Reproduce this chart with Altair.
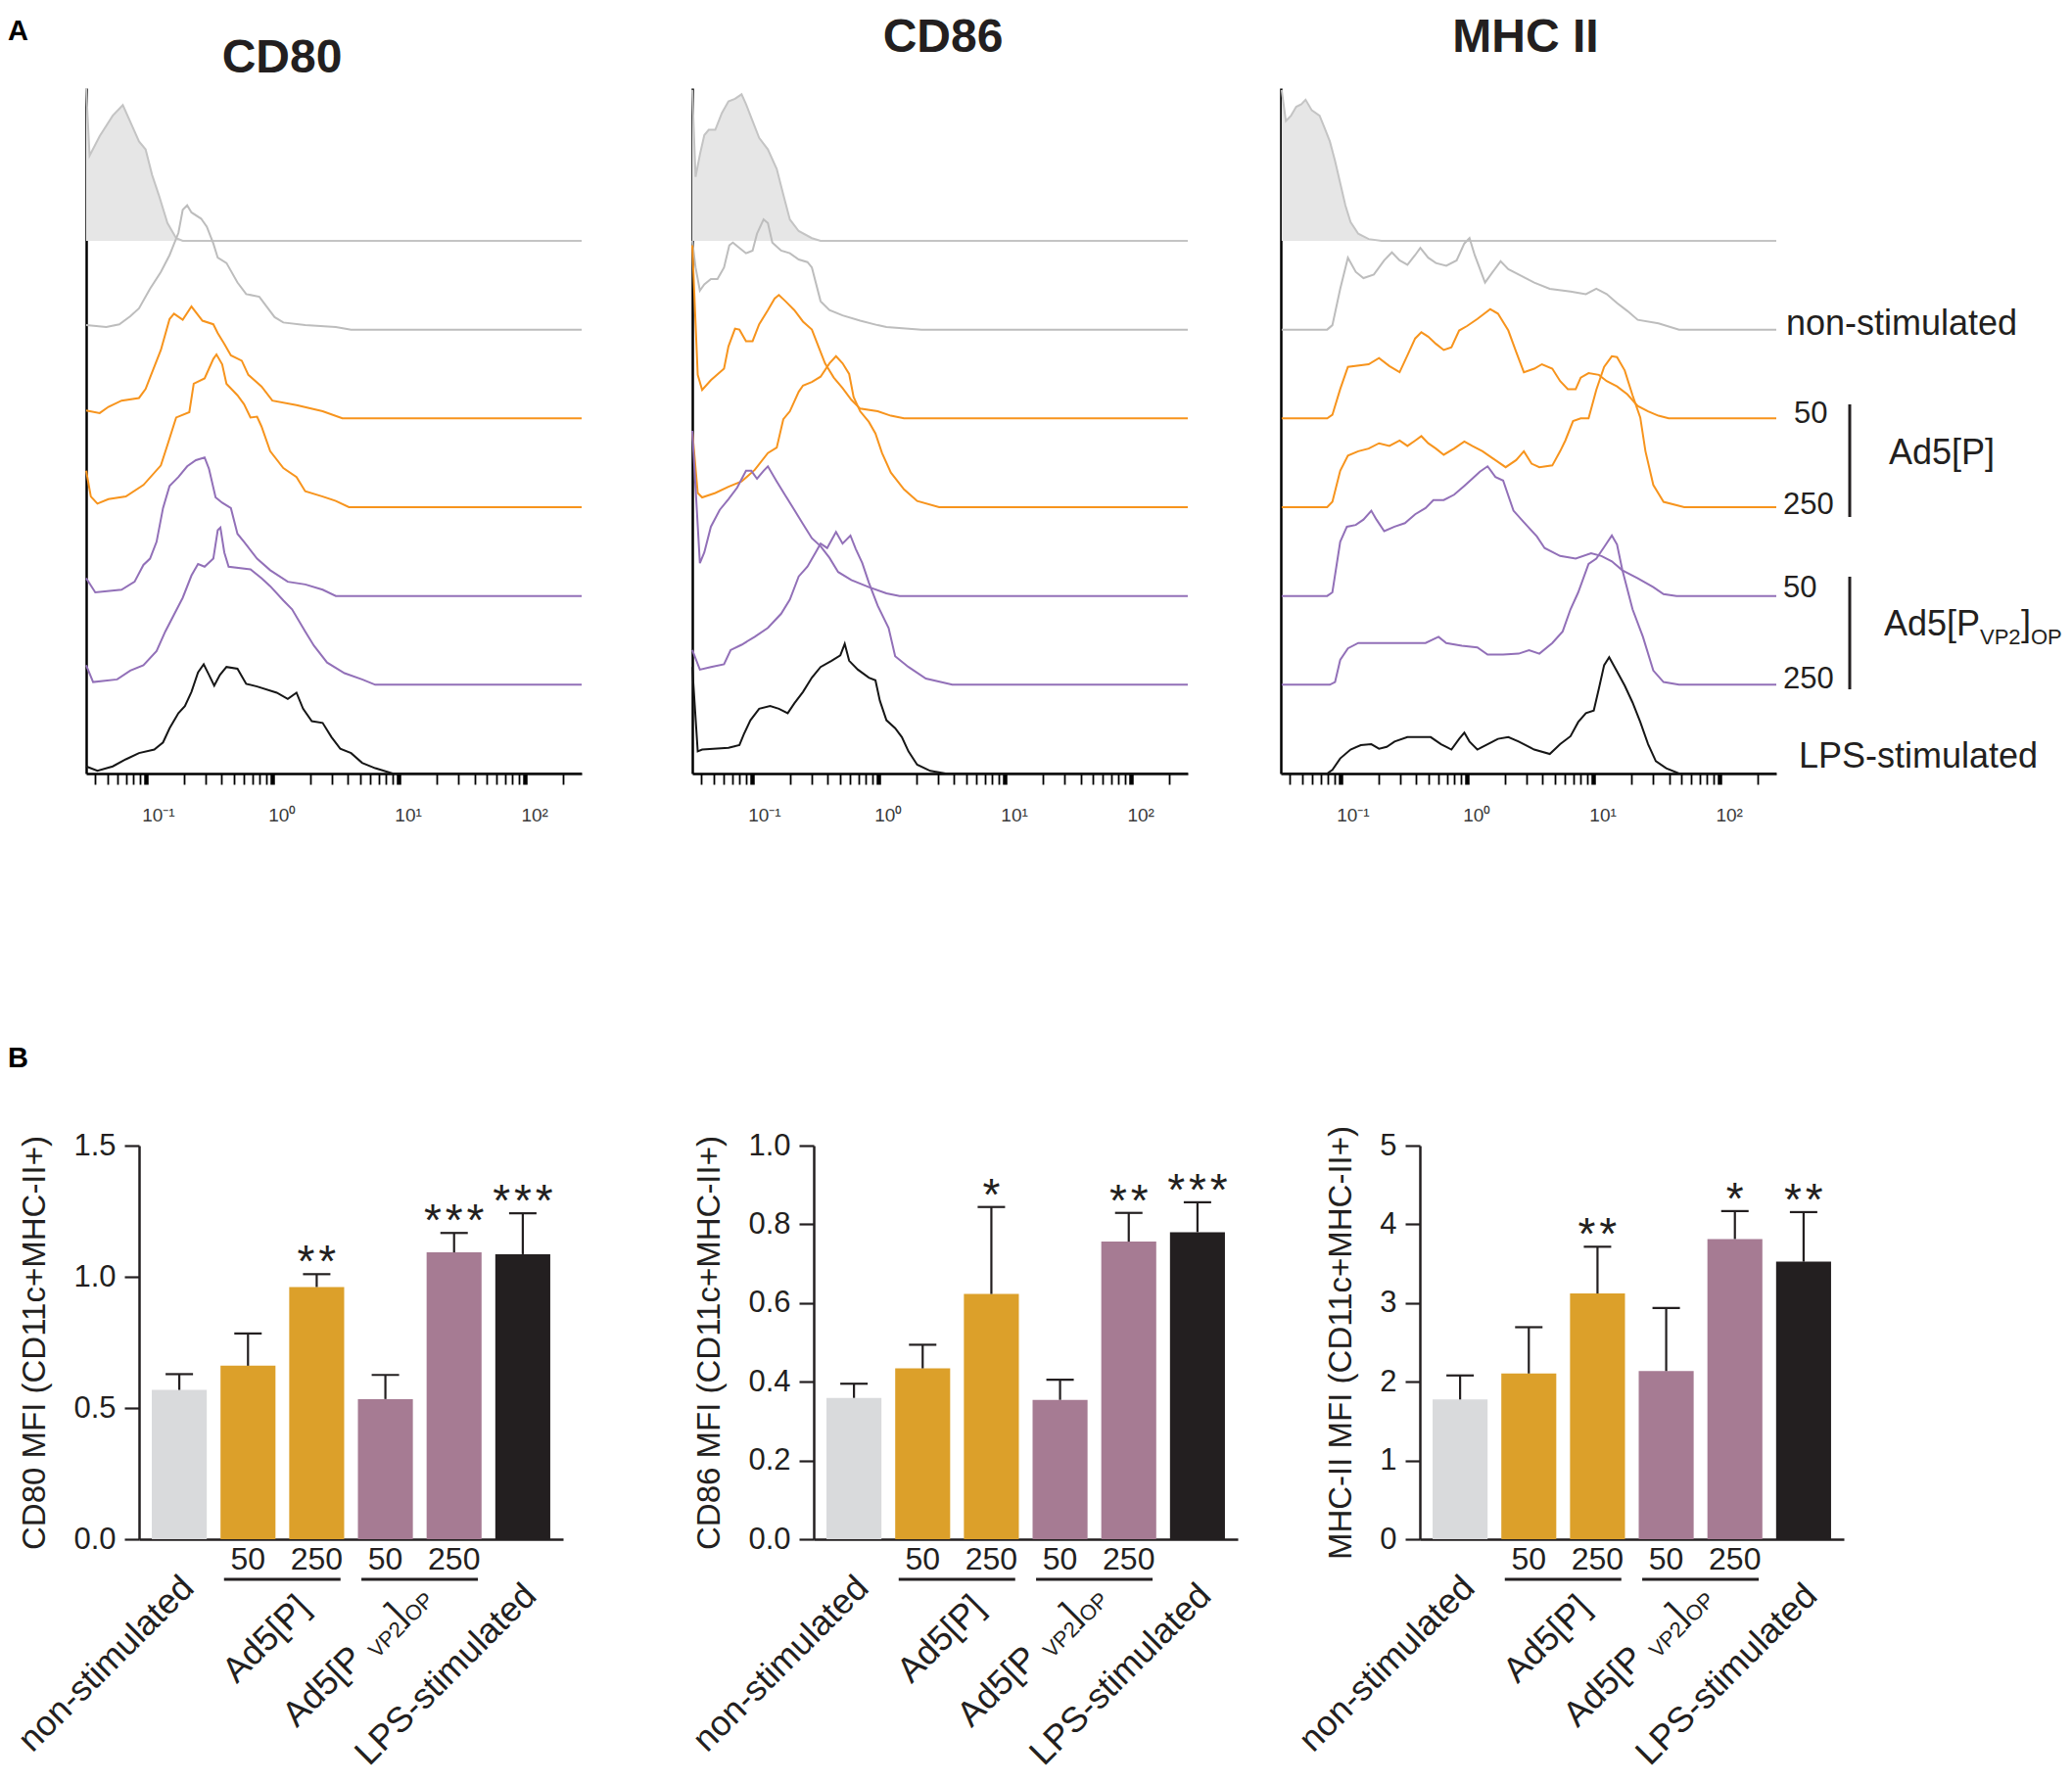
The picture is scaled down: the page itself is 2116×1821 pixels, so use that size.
import altair as alt
import pandas as pd

# ---------------- Panel A: flow histograms (log10 MFI exponent, relative count) ----------------
CD80_CTRL_E = [-1.47, -1.443, -1.363, -1.260, -1.180, -1.121, -1.052, -1.000, -0.948, -0.896, -0.827, -0.758, -0.706, 2.45]
CD80_CTRL_H = [1.72, 0.96, 1.18, 1.41, 1.53, 1.34, 1.12, 1.03, 0.74, 0.52, 0.20, 0.03, 0.0, 0.0]
CD80_NS_E = [-1.47, -1.311, -1.208, -1.121, -1.052, -0.965, -0.879, -0.810, -0.740, -0.706, -0.671, -0.637, -0.561, -0.516, -0.464, -0.429, -0.360, -0.273, -0.204, -0.100, -0.048, 0.021, 0.090, 0.263, 0.505, 0.626, 2.45]
CD80_NS_H = [0.05, 0.03, 0.06, 0.15, 0.24, 0.46, 0.65, 0.84, 1.09, 1.35, 1.40, 1.32, 1.25, 1.16, 0.97, 0.81, 0.75, 0.53, 0.40, 0.37, 0.27, 0.14, 0.08, 0.05, 0.03, 0.0, 0.0]
CD80_P50_E = [-1.47, -1.363, -1.294, -1.190, -1.052, -1.000, -0.948, -0.879, -0.810, -0.775, -0.706, -0.637, -0.550, -0.464, -0.429, -0.377, -0.325, -0.239, -0.187, -0.083, 0.003, 0.194, 0.401, 0.557, 2.45]
CD80_P50_H = [0.09, 0.06, 0.13, 0.20, 0.23, 0.33, 0.52, 0.77, 1.12, 1.18, 1.11, 1.26, 1.10, 1.06, 0.96, 0.84, 0.71, 0.65, 0.49, 0.36, 0.20, 0.15, 0.08, 0.0, 0.0]
CD80_P250_E = [-1.47, -1.433, -1.381, -1.294, -1.156, -1.017, -0.879, -0.827, -0.758, -0.654, -0.619, -0.533, -0.464, -0.439, -0.394, -0.360, -0.273, -0.221, -0.170, -0.118, -0.083, -0.014, 0.090, 0.194, 0.263, 0.401, 0.505, 0.609, 2.45]
CD80_P250_H = [0.41, 0.12, 0.04, 0.09, 0.12, 0.25, 0.47, 0.70, 1.01, 1.07, 1.39, 1.45, 1.67, 1.72, 1.61, 1.39, 1.26, 1.16, 1.01, 1.02, 0.91, 0.63, 0.44, 0.34, 0.18, 0.12, 0.07, 0.0, 0.0]
CD80_V50_E = [-1.47, -1.398, -1.190, -1.087, -1.017, -0.965, -0.913, -0.862, -0.810, -0.740, -0.671, -0.602, -0.533, -0.498, -0.446, -0.394, -0.325, -0.273, -0.221, -0.118, -0.014, 0.125, 0.263, 0.401, 0.505, 2.45]
CD80_V50_H = [0.20, 0.04, 0.07, 0.16, 0.35, 0.42, 0.61, 0.99, 1.24, 1.34, 1.46, 1.53, 1.56, 1.43, 1.11, 1.05, 0.99, 0.70, 0.61, 0.42, 0.29, 0.16, 0.13, 0.07, 0.0, 0.0]
CD80_V250_E = [-1.47, -1.415, -1.225, -1.121, -1.017, -0.913, -0.844, -0.775, -0.706, -0.637, -0.585, -0.533, -0.464, -0.429, -0.408, -0.377, -0.343, -0.170, -0.083, -0.014, 0.090, 0.159, 0.263, 0.332, 0.436, 0.574, 0.713, 0.817, 2.45]
CD80_V250_H = [0.22, 0.03, 0.06, 0.16, 0.22, 0.38, 0.60, 0.79, 0.98, 1.23, 1.36, 1.33, 1.42, 1.74, 1.77, 1.49, 1.33, 1.30, 1.20, 1.11, 0.95, 0.85, 0.60, 0.44, 0.25, 0.13, 0.06, 0.0, 0.0]
CD80_LPS_E = [-1.47, -1.381, -1.260, -1.156, -1.052, -0.931, -0.862, -0.810, -0.740, -0.689, -0.637, -0.585, -0.540, -0.498, -0.457, -0.412, -0.360, -0.273, -0.204, -0.118, 0.038, 0.125, 0.194, 0.246, 0.315, 0.401, 0.471, 0.540, 0.626, 0.713, 0.817, 0.955, 2.45]
CD80_LPS_H = [0.08, 0.03, 0.08, 0.16, 0.23, 0.27, 0.35, 0.51, 0.68, 0.76, 0.92, 1.14, 1.23, 1.11, 0.99, 1.11, 1.20, 1.18, 1.01, 0.98, 0.91, 0.84, 0.91, 0.73, 0.59, 0.57, 0.41, 0.28, 0.23, 0.12, 0.06, 0.0, 0.0]

CD86_CTRL_E = [-1.47, -1.444, -1.410, -1.375, -1.340, -1.288, -1.236, -1.184, -1.132, -1.080, -1.045, -0.993, -0.941, -0.872, -0.802, -0.750, -0.698, -0.628, -0.524, -0.455, 2.45]
CD86_CTRL_H = [1.70, 0.72, 0.97, 1.19, 1.25, 1.25, 1.44, 1.57, 1.60, 1.65, 1.54, 1.35, 1.16, 1.03, 0.81, 0.52, 0.24, 0.11, 0.03, 0.0, 0.0]
CD86_NS_E = [-1.47, -1.444, -1.410, -1.375, -1.323, -1.271, -1.219, -1.177, -1.149, -1.097, -1.045, -0.993, -0.958, -0.906, -0.872, -0.837, -0.767, -0.698, -0.628, -0.559, -0.524, -0.455, -0.385, -0.281, -0.142, -0.003, 0.066, 0.344, 2.45]
CD86_NS_H = [1.00, 0.70, 0.44, 0.51, 0.57, 0.57, 0.70, 0.95, 0.98, 0.92, 0.86, 0.89, 1.08, 1.24, 1.20, 0.98, 0.89, 0.86, 0.79, 0.76, 0.70, 0.32, 0.22, 0.16, 0.10, 0.05, 0.03, 0.0, 0.0]
CD86_P50_E = [-1.47, -1.427, -1.392, -1.323, -1.219, -1.184, -1.132, -1.097, -1.045, -0.993, -0.941, -0.872, -0.819, -0.785, -0.733, -0.663, -0.594, -0.524, -0.472, -0.420, -0.351, -0.281, -0.212, -0.142, -0.003, 0.101, 0.205, 2.45]
CD86_P50_H = [1.95, 0.49, 0.32, 0.43, 0.56, 0.81, 1.01, 1.00, 0.87, 0.87, 1.06, 1.22, 1.35, 1.39, 1.32, 1.22, 1.09, 1.00, 0.81, 0.62, 0.46, 0.34, 0.21, 0.11, 0.08, 0.03, 0.0, 0.0]
CD86_P250_E = [-1.47, -1.427, -1.392, -1.288, -1.184, -1.080, -0.976, -0.872, -0.802, -0.750, -0.698, -0.628, -0.594, -0.524, -0.455, -0.385, -0.333, -0.281, -0.229, -0.194, -0.142, -0.073, -0.021, 0.031, 0.101, 0.205, 0.309, 0.483, 2.45]
CD86_P250_H = [0.86, 0.16, 0.11, 0.16, 0.23, 0.29, 0.42, 0.61, 0.67, 0.99, 1.08, 1.30, 1.37, 1.41, 1.47, 1.62, 1.70, 1.62, 1.50, 1.24, 1.08, 0.96, 0.83, 0.61, 0.39, 0.20, 0.07, 0.0, 0.0]
CD86_V50_E = [-1.47, -1.410, -1.375, -1.323, -1.253, -1.184, -1.115, -1.045, -1.003, -0.958, -0.906, -0.872, -0.802, -0.733, -0.663, -0.594, -0.524, -0.455, -0.385, -0.316, -0.212, -0.073, 0.066, 0.170, 2.45]
CD86_V50_H = [1.86, 0.37, 0.49, 0.78, 0.97, 1.09, 1.22, 1.41, 1.41, 1.32, 1.41, 1.46, 1.29, 1.13, 0.97, 0.81, 0.65, 0.56, 0.43, 0.27, 0.18, 0.10, 0.03, 0.0, 0.0]
CD86_V250_E = [-1.47, -1.410, -1.323, -1.219, -1.167, -1.080, -0.976, -0.872, -0.767, -0.698, -0.628, -0.559, -0.490, -0.455, -0.403, -0.333, -0.281, -0.219, -0.177, -0.125, -0.073, -0.003, 0.083, 0.135, 0.240, 0.378, 0.587, 2.45]
CD86_V250_H = [0.39, 0.17, 0.20, 0.23, 0.39, 0.45, 0.54, 0.64, 0.80, 0.96, 1.22, 1.33, 1.50, 1.59, 1.54, 1.72, 1.59, 1.68, 1.53, 1.37, 1.15, 0.89, 0.64, 0.32, 0.20, 0.07, 0.0, 0.0]
CD86_LPS_E = [-1.47, -1.427, -1.392, -1.184, -1.097, -1.063, -1.010, -0.941, -0.854, -0.785, -0.715, -0.663, -0.594, -0.524, -0.455, -0.368, -0.299, -0.264, -0.229, -0.160, -0.073, -0.021, 0.014, 0.066, 0.135, 0.188, 0.240, 0.309, 0.413, 0.535, 2.45]
CD86_LPS_H = [1.20, 0.25, 0.27, 0.29, 0.32, 0.44, 0.60, 0.73, 0.76, 0.73, 0.68, 0.79, 0.92, 1.08, 1.20, 1.27, 1.33, 1.46, 1.27, 1.17, 1.08, 1.05, 0.82, 0.60, 0.51, 0.41, 0.25, 0.10, 0.03, 0.0, 0.0]

MHC_CTRL_E = [-1.463, -1.430, -1.389, -1.348, -1.307, -1.274, -1.225, -1.163, -1.123, -1.082, -1.041, -1.000, -0.959, -0.918, -0.857, -0.775, -0.672, 2.45]
MHC_CTRL_H = [1.70, 1.35, 1.41, 1.51, 1.54, 1.59, 1.47, 1.41, 1.27, 1.12, 0.90, 0.65, 0.40, 0.21, 0.08, 0.02, 0.0, 0.0]
MHC_NS_E = [-1.463, -1.103, -1.062, -1.000, -0.939, -0.877, -0.816, -0.734, -0.652, -0.591, -0.530, -0.468, -0.407, -0.366, -0.304, -0.243, -0.161, -0.079, -0.018, 0.023, 0.064, 0.146, 0.207, 0.269, 0.330, 0.412, 0.535, 0.658, 0.822, 0.944, 1.026, 1.108, 1.190, 1.272, 1.354, 1.518, 1.681, 2.45]
MHC_NS_H = [0.0, 0.0, 0.05, 0.46, 0.81, 0.65, 0.58, 0.62, 0.78, 0.87, 0.78, 0.73, 0.84, 0.92, 0.81, 0.75, 0.72, 0.78, 0.97, 1.03, 0.84, 0.53, 0.65, 0.77, 0.68, 0.62, 0.53, 0.46, 0.43, 0.40, 0.46, 0.40, 0.30, 0.21, 0.11, 0.07, 0.0, 0.0]
MHC_P50_E = [-1.463, -1.103, -1.062, -1.000, -0.939, -0.775, -0.693, -0.611, -0.530, -0.468, -0.407, -0.358, -0.304, -0.243, -0.181, -0.120, -0.059, 0.003, 0.085, 0.187, 0.248, 0.330, 0.392, 0.453, 0.535, 0.596, 0.678, 0.740, 0.801, 0.863, 0.903, 0.965, 1.047, 1.108, 1.190, 1.272, 1.354, 1.436, 1.518, 1.599, 2.45]
MHC_P50_H = [0.0, 0.0, 0.04, 0.33, 0.58, 0.61, 0.68, 0.59, 0.52, 0.71, 0.90, 0.97, 0.92, 0.84, 0.77, 0.80, 0.99, 1.04, 1.12, 1.23, 1.18, 0.99, 0.75, 0.52, 0.56, 0.61, 0.56, 0.42, 0.33, 0.33, 0.46, 0.51, 0.49, 0.42, 0.36, 0.27, 0.14, 0.08, 0.03, 0.0, 0.0]
MHC_P250_E = [-1.463, -1.103, -1.062, -1.000, -0.939, -0.857, -0.775, -0.693, -0.611, -0.530, -0.468, -0.407, -0.358, -0.304, -0.243, -0.181, -0.099, -0.018, 0.044, 0.126, 0.207, 0.309, 0.392, 0.453, 0.514, 0.576, 0.678, 0.740, 0.781, 0.842, 0.903, 0.965, 1.026, 1.088, 1.149, 1.190, 1.251, 1.313, 1.374, 1.415, 1.477, 1.558, 1.722, 2.45]
MHC_P250_H = [0.0, 0.0, 0.06, 0.41, 0.58, 0.63, 0.66, 0.72, 0.69, 0.75, 0.69, 0.75, 0.80, 0.72, 0.66, 0.59, 0.66, 0.74, 0.69, 0.63, 0.55, 0.45, 0.53, 0.63, 0.49, 0.45, 0.47, 0.63, 0.75, 0.97, 1.00, 1.00, 1.32, 1.58, 1.70, 1.69, 1.54, 1.26, 1.01, 0.63, 0.25, 0.06, 0.0, 0.0]
MHC_V50_E = [-1.463, -1.103, -1.062, -1.000, -0.947, -0.877, -0.816, -0.754, -0.713, -0.652, -0.570, -0.488, -0.407, -0.325, -0.263, -0.181, -0.099, -0.018, 0.044, 0.105, 0.166, 0.228, 0.289, 0.371, 0.453, 0.556, 0.617, 0.740, 0.863, 0.985, 1.067, 1.149, 1.231, 1.354, 1.477, 1.558, 1.661, 2.45]
MHC_V50_H = [0.0, 0.0, 0.04, 0.61, 0.78, 0.80, 0.86, 0.96, 0.86, 0.73, 0.78, 0.82, 0.92, 0.99, 1.08, 1.08, 1.14, 1.24, 1.32, 1.40, 1.46, 1.34, 1.30, 0.96, 0.83, 0.67, 0.54, 0.45, 0.42, 0.48, 0.45, 0.39, 0.29, 0.20, 0.10, 0.02, 0.0, 0.0]
MHC_V250_E = [-1.463, -1.082, -1.041, -1.000, -0.939, -0.857, -0.325, -0.222, -0.161, -0.038, 0.085, 0.166, 0.289, 0.412, 0.494, 0.576, 0.678, 0.760, 0.822, 0.883, 0.965, 1.026, 1.088, 1.149, 1.190, 1.231, 1.313, 1.395, 1.477, 1.558, 1.681, 2.45]
MHC_V250_H = [0.0, 0.0, 0.03, 0.28, 0.41, 0.47, 0.47, 0.54, 0.47, 0.44, 0.42, 0.34, 0.34, 0.35, 0.39, 0.35, 0.47, 0.60, 0.85, 1.04, 1.36, 1.42, 1.55, 1.68, 1.58, 1.30, 0.85, 0.54, 0.16, 0.03, 0.0, 0.0]
MHC_LPS_E = [-1.463, -1.103, -1.062, -1.000, -0.918, -0.837, -0.754, -0.693, -0.632, -0.570, -0.468, -0.284, -0.202, -0.120, -0.059, -0.018, 0.023, 0.085, 0.166, 0.248, 0.330, 0.412, 0.535, 0.658, 0.740, 0.822, 0.883, 0.944, 1.006, 1.047, 1.088, 1.128, 1.190, 1.251, 1.313, 1.374, 1.436, 1.497, 1.579, 1.681, 2.45]
MHC_LPS_H = [0.0, 0.0, 0.04, 0.17, 0.27, 0.32, 0.33, 0.28, 0.30, 0.36, 0.41, 0.41, 0.33, 0.27, 0.39, 0.46, 0.36, 0.27, 0.33, 0.39, 0.41, 0.36, 0.27, 0.22, 0.33, 0.42, 0.58, 0.68, 0.71, 0.96, 1.22, 1.31, 1.15, 0.99, 0.80, 0.58, 0.33, 0.14, 0.06, 0.0, 0.0]

# ---------------- Panel B: bar charts ----------------
CATS = ["ns", "p50", "p250", "v50", "v250", "lps"]
CD80_MEAN = [0.569, 0.661, 0.961, 0.534, 1.093, 1.086]
CD80_ERR = [0.060, 0.123, 0.049, 0.092, 0.074, 0.156]
CD80_STARS = ["", "", "**", "", "***", "***"]
CD86_MEAN = [0.359, 0.434, 0.623, 0.354, 0.756, 0.780]
CD86_ERR = [0.036, 0.060, 0.221, 0.051, 0.073, 0.076]
CD86_STARS = ["", "", "*", "", "**", "***"]
MHC_MEAN = [1.775, 2.105, 3.121, 2.136, 3.813, 3.525]
MHC_ERR = [0.305, 0.588, 0.594, 0.802, 0.355, 0.630]
MHC_STARS = ["", "", "**", "", "*", "**"]
BAR_COLORS = ["#d9dadc", "#dca02a", "#dca02a", "#a67b93", "#a67b93", "#231f20"]

INK = "#231f20"
FONT = "Liberation Sans"
XMIN_E, XMAX_E = -1.47, 2.45
YTOP = 7.72
LANES = {"ctrl": 6, "ns": 5, "p50": 4, "p250": 3, "v50": 2, "v250": 1, "lps": 0}
LINE_COLORS = {"ctrl": "#c4c4c4", "ns": "#bdbdbd", "p50": "#f7941d", "p250": "#f7941d",
               "v50": "#9270b8", "v250": "#9270b8", "lps": "#161616"}
MAJOR_TEST = "indexof([0.1, 1, 10, 100], datum.value) >= 0"
LABEL_EXPR = ("datum.value == 0.1 ? '10\u207b\u00b9' : datum.value == 1 ? '10\u2070' : "
              "datum.value == 10 ? '10\u00b9' : datum.value == 100 ? '10\u00b2' : ''")
TICK_VALUES = sorted({round(m * d, 6) for d in [0.01, 0.1, 1, 10, 100] for m in range(1, 10)
                      if 10 ** XMIN_E <= m * d <= 10 ** XMAX_E})

AW, AH = 506, 700
BW, BH = 433, 402
STAR_SEP = "\u200a"


def hist_frame(curves):
    rows = []
    for key, (es, hs) in curves.items():
        for e, h in zip(es, hs):
            e = min(max(e, XMIN_E), XMAX_E)
            rows.append({"series": key, "col": LINE_COLORS[key], "mfi": 10 ** e,
                         "y": LANES[key] + h, "base": LANES[key]})
    return pd.DataFrame(rows)


def note(text, x, y, size, align="left", baseline="middle", **kw):
    return alt.Chart(pd.DataFrame({"t": [text]})).mark_text(
        font=FONT, fontSize=size, align=align, baseline=baseline, color=INK, **kw
    ).encode(x=alt.value(x), y=alt.value(y), text="t:N")


def vbar(x, y1, y2):
    return alt.Chart(pd.DataFrame({"a": [0]})).mark_rule(color=INK, strokeWidth=3).encode(
        x=alt.value(x), y=alt.value(y1), y2=alt.value(y2))


def hist_panel(curves, title, t_offset, t_dy, t_dx, extra=()):
    df = hist_frame(curves)
    x = alt.X("mfi:Q",
              scale=alt.Scale(type="log", domain=[10 ** XMIN_E, 10 ** XMAX_E], nice=False),
              axis=alt.Axis(values=TICK_VALUES, labelExpr=LABEL_EXPR, title=None, grid=False,
                            domainColor="#000000", domainWidth=2.5, tickColor="#000000",
                            tickSize=11,
                            tickWidth={"condition": {"test": MAJOR_TEST, "value": 4.5}, "value": 1.8},
                            labelFont=FONT, labelFontSize=19, labelColor="#3a3a3a",
                            labelAlign="left", labelOffset=-4, labelPadding=22,
                            labelOverlap=False, labelFlush=False))
    y = alt.Y("y:Q", scale=alt.Scale(domain=[0, YTOP], nice=False),
              axis=alt.Axis(labels=False, ticks=False, title=None, grid=False,
                            domainColor="#000000", domainWidth=2.5))
    base = alt.Chart(df)
    area = base.transform_filter("datum.series == 'ctrl'").mark_area(
        color="#e6e6e6", opacity=1).encode(x=x, y=y, y2="base:Q")
    lines = base.mark_line(strokeWidth=2).encode(
        x=x, y=y, color=alt.Color("col:N", scale=None), detail="series:N")
    return alt.layer(area, lines, *extra).properties(
        width=AW, height=AH,
        title=alt.TitleParams(title, font=FONT, fontSize=48, fontWeight="bold", color=INK,
                              anchor="middle", offset=t_offset, dy=t_dy, dx=t_dx,
                              baseline="alphabetic"))


def bar_panel(means, errs, stars, ytitle, ymax, yticks, fmt):
    df = pd.DataFrame({"cat": CATS, "mean": means, "col": BAR_COLORS,
                       "upper": [m + e for m, e in zip(means, errs)],
                       "star": [STAR_SEP.join(s) for s in stars]})
    xscale = alt.Scale(domain=CATS, paddingInner=0.2, paddingOuter=0.186)
    ax = alt.Axis(labels=False, ticks=False, title=None, grid=False,
                  domainColor=INK, domainWidth=2.5)
    xs = alt.X("cat:N", scale=xscale, axis=ax)
    yscale = alt.Scale(domain=[0, ymax], nice=False)
    ay = alt.Axis(values=yticks, format=fmt, title=ytitle, grid=False, domainColor=INK,
                  domainWidth=2.5, tickColor=INK, tickWidth=2.2, tickSize=15,
                  labelFont=FONT, labelFontSize=31, labelColor=INK, labelPadding=9,
                  labelFlush=False, titleFont=FONT, titleFontSize=33,
                  titleFontWeight="normal", titleColor=INK, titlePadding=22)
    base = alt.Chart(df)
    bars = base.mark_bar().encode(
        x=xs, y=alt.Y("mean:Q", scale=yscale, axis=ay),
        color=alt.Color("col:N", scale=None))
    err = base.mark_rule(color=INK, strokeWidth=2.2).encode(
        x=xs, y=alt.Y("mean:Q", scale=yscale, axis=ay), y2="upper:Q")
    caps = base.mark_tick(color=INK, opacity=1, thickness=2.2, size=28, orient="horizontal").encode(
        x=xs, y=alt.Y("upper:Q", scale=yscale, axis=ay))
    star = base.mark_text(font=FONT, fontSize=46, baseline="alphabetic", color=INK, dy=3).encode(
        x=xs, y=alt.Y("upper:Q", scale=yscale, axis=ay), text="star:N")
    sub = alt.Chart(pd.DataFrame({"cat": ["p50", "p250", "v50", "v250"],
                                  "t": ["50", "250", "50", "250"]})).mark_text(
        font=FONT, fontSize=32, baseline="middle", color=INK).encode(
        x=xs, y=alt.value(BH + 21), text="t:N")
    under = alt.Chart(pd.DataFrame({"cat": ["p50", "v50"]})).mark_tick(
        color=INK, opacity=1, thickness=3, size=119, orient="horizontal", xOffset=35).encode(
        x=xs, y=alt.value(BH + 41))

    def rot(text, cat, xoff, y, size, dx=0, dy=0):
        return alt.Chart(pd.DataFrame({"cat": [cat], "t": [text]})).mark_text(
            font=FONT, fontSize=size, angle=315, align="right", baseline="middle",
            color=INK, xOffset=xoff, dx=dx, dy=dy).encode(x=xs, y=alt.value(y), text="t:N")

    labels = [
        rot("non-stimulated", "ns", 9, BH + 44, 36),
        rot("Ad5[P]", "p250", -13, BH + 64, 36),
        rot("OP", "v250", -33, BH + 50, 22, 0, 12),
        rot("]", "v250", -33, BH + 50, 36, -31.8, 0),
        rot("VP2", "v250", -33, BH + 50, 22, -41.8, 12),
        rot("Ad5[P", "v250", -33, BH + 50, 36, -93.4, 0),
        rot("LPS-stimulated", "lps", 8, BH + 52, 36),
    ]
    return alt.layer(bars, err, caps, star, sub, under, *labels).properties(width=BW, height=BH)


def spacer(w, h, letter=None, off=0):
    c = alt.Chart(pd.DataFrame({"v": [0]})).mark_point(opacity=0).properties(width=w, height=h)
    if letter:
        c = c.properties(title=alt.TitleParams(letter, font=FONT, fontSize=29, fontWeight="bold",
                                               color="#000000", anchor="start", offset=off,
                                               baseline="alphabetic"))
    return c


cd80 = hist_panel({"ctrl": (CD80_CTRL_E, CD80_CTRL_H), "ns": (CD80_NS_E, CD80_NS_H),
                   "p50": (CD80_P50_E, CD80_P50_H), "p250": (CD80_P250_E, CD80_P250_H),
                   "v50": (CD80_V50_E, CD80_V50_H), "v250": (CD80_V250_E, CD80_V250_H),
                   "lps": (CD80_LPS_E, CD80_LPS_H)}, "CD80", 0, 36, -53)
cd86 = hist_panel({"ctrl": (CD86_CTRL_E, CD86_CTRL_H), "ns": (CD86_NS_E, CD86_NS_H),
                   "p50": (CD86_P50_E, CD86_P50_H), "p250": (CD86_P250_E, CD86_P250_H),
                   "v50": (CD86_V50_E, CD86_V50_H), "v250": (CD86_V250_E, CD86_V250_H),
                   "lps": (CD86_LPS_E, CD86_LPS_H)}, "CD86", 1, 14, 3)
right_notes = [
    note("non-stimulated", 516, 241, 36),
    note("50", 524, 333, 31),
    note("250", 513, 426, 31),
    note("50", 513, 511, 31),
    note("250", 513, 604, 31),
    note("LPS-stimulated", 529, 683, 36),
    note("Ad5[P]", 621, 373, 36),
    note("Ad5[P", 616, 548, 36),
    note("VP2", 714, 561, 22),
    note("]", 756, 548, 36),
    note("OP", 766, 561, 22),
    vbar(581, 323, 438),
    vbar(581, 499, 614),
]
mhc = hist_panel({"ctrl": (MHC_CTRL_E, MHC_CTRL_H), "ns": (MHC_NS_E, MHC_NS_H),
                  "p50": (MHC_P50_E, MHC_P50_H), "p250": (MHC_P250_E, MHC_P250_H),
                  "v50": (MHC_V50_E, MHC_V50_H), "v250": (MHC_V250_E, MHC_V250_H),
                  "lps": (MHC_LPS_E, MHC_LPS_H)}, "MHC II", 1, 14, -3, right_notes)

b80 = bar_panel(CD80_MEAN, CD80_ERR, CD80_STARS, "CD80 MFI (CD11c+MHC-II+)", 1.5,
                [0, 0.5, 1.0, 1.5], ".1f")
b86 = bar_panel(CD86_MEAN, CD86_ERR, CD86_STARS, "CD86 MFI (CD11c+MHC-II+)", 1.0,
                [0, 0.2, 0.4, 0.6, 0.8, 1.0], ".1f")
bmhc = bar_panel(MHC_MEAN, MHC_ERR, MHC_STARS, "MHC-II MFI (CD11c+MHC-II+)", 5,
                 [0, 1, 2, 3, 4, 5], "d")

row_a = alt.hconcat(spacer(80, AH, "A", 20), cd80, spacer(113, AH), cd86, spacer(95, AH), mhc,
                    spacing=0, bounds="flush")
row_b = alt.hconcat(spacer(134, BH, "B", 51), b80, spacer(256, BH), b86, spacer(186, BH), bmhc,
                    spacing=0, bounds="flush")

chart = alt.vconcat(row_a, row_b, spacing=225).properties(
    padding={"left": 0, "top": 6, "right": 0, "bottom": 0}
).configure(font=FONT, background="white").configure_view(stroke=None)

chart.save("out.html", embed_options={"renderer": "svg", "actions": False})
